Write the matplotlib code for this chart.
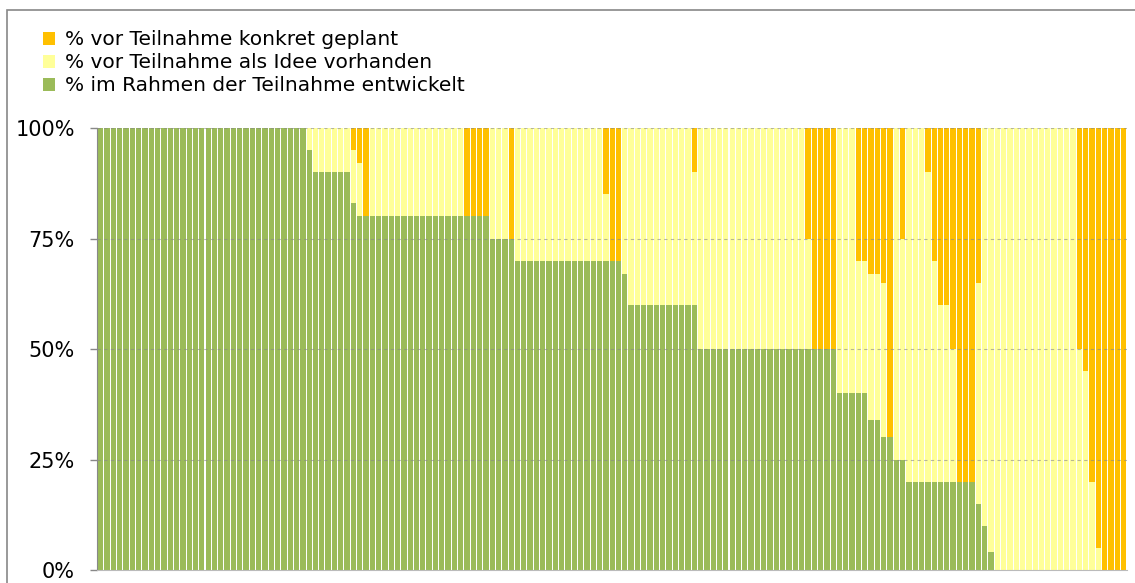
import matplotlib
matplotlib.use("Agg")
import matplotlib.pyplot as plt
import numpy as np
from matplotlib.patches import Rectangle

# share of ideas per participant, bars sorted as in the original
green = [
    100, 100, 100, 100, 100, 100, 100, 100, 100, 100,
    100, 100, 100, 100, 100, 100, 100, 100, 100, 100,
    100, 100, 100, 100, 100, 100, 100, 100, 100, 100,
    100, 100, 100, 95, 90, 90, 90, 90, 90, 90,
    83, 80, 80, 80, 80, 80, 80, 80, 80, 80,
    80, 80, 80, 80, 80, 80, 80, 80, 80, 80,
    80, 80, 75, 75, 75, 75, 70, 70, 70, 70,
    70, 70, 70, 70, 70, 70, 70, 70, 70, 70,
    70, 70, 70, 67, 60, 60, 60, 60, 60, 60,
    60, 60, 60, 60, 60, 50, 50, 50, 50, 50,
    50, 50, 50, 50, 50, 50, 50, 50, 50, 50,
    50, 50, 50, 50, 50, 50, 50, 40, 40, 40,
    40, 40, 34, 34, 30, 30, 25, 25, 20, 20,
    20, 20, 20, 20, 20, 20, 20, 20, 20, 15,
    10, 4, 0, 0, 0, 0, 0, 0, 0, 0,
    0, 0, 0, 0, 0, 0, 0, 0, 0, 0,
    0, 0, 0,
]
idea = [
    0, 0, 0, 0, 0, 0, 0, 0, 0, 0,
    0, 0, 0, 0, 0, 0, 0, 0, 0, 0,
    0, 0, 0, 0, 0, 0, 0, 0, 0, 0,
    0, 0, 0, 5, 10, 10, 10, 10, 10, 10,
    12, 12, 0, 20, 20, 20, 20, 20, 20, 20,
    20, 20, 20, 20, 20, 20, 20, 20, 0, 0,
    0, 0, 25, 25, 25, 0, 30, 30, 30, 30,
    30, 30, 30, 30, 30, 30, 30, 30, 30, 30,
    15, 0, 0, 33, 40, 40, 40, 40, 40, 40,
    40, 40, 40, 40, 30, 50, 50, 50, 50, 50,
    50, 50, 50, 50, 50, 50, 50, 50, 50, 50,
    50, 50, 25, 0, 0, 0, 0, 60, 60, 60,
    30, 30, 33, 33, 35, 0, 75, 50, 80, 80,
    80, 70, 50, 40, 40, 30, 0, 0, 0, 50,
    90, 96, 100, 100, 100, 100, 100, 100, 100, 100,
    100, 100, 100, 100, 100, 50, 45, 20, 5, 0,
    0, 0, 0,
]
planned = [
    0, 0, 0, 0, 0, 0, 0, 0, 0, 0,
    0, 0, 0, 0, 0, 0, 0, 0, 0, 0,
    0, 0, 0, 0, 0, 0, 0, 0, 0, 0,
    0, 0, 0, 0, 0, 0, 0, 0, 0, 0,
    5, 8, 20, 0, 0, 0, 0, 0, 0, 0,
    0, 0, 0, 0, 0, 0, 0, 0, 20, 20,
    20, 20, 0, 0, 0, 25, 0, 0, 0, 0,
    0, 0, 0, 0, 0, 0, 0, 0, 0, 0,
    15, 30, 30, 0, 0, 0, 0, 0, 0, 0,
    0, 0, 0, 0, 10, 0, 0, 0, 0, 0,
    0, 0, 0, 0, 0, 0, 0, 0, 0, 0,
    0, 0, 25, 50, 50, 50, 50, 0, 0, 0,
    30, 30, 33, 33, 35, 70, 0, 25, 0, 0,
    0, 10, 30, 40, 40, 50, 80, 80, 80, 35,
    0, 0, 0, 0, 0, 0, 0, 0, 0, 0,
    0, 0, 0, 0, 0, 50, 55, 80, 95, 100,
    100, 100, 100,
]
labels = [
    "% im Rahmen der Teilnahme entwickelt",
    "% vor Teilnahme als Idee vorhanden",
    "% vor Teilnahme konkret geplant",
]
yticks = [0, 25, 50, 75, 100]

GREEN, IDEA, PLANNED = "#9bbb59", "#ffff99", "#ffc000"

fig = plt.figure(figsize=(11.35, 5.83), dpi=100)
ax = fig.add_axes([0.0855, 0.0223, 0.9075, 0.7581])

x = np.arange(len(green))
g, i, p = np.array(green), np.array(idea), np.array(planned)
w = 0.84
b1 = ax.bar(x, g, w, color=GREEN, linewidth=0, label=labels[0])
b2 = ax.bar(x, i, w, bottom=g, color=IDEA, linewidth=0, label=labels[1])
b3 = ax.bar(x, p, w, bottom=g + i, color=PLANNED, linewidth=0, label=labels[2])

for t in yticks[1:]:
    ax.axhline(t, color="#888888", lw=0.8, ls=(0, (3, 3)), alpha=0.6, zorder=3)

ax.set_xlim(-0.6, len(green) - 0.45)
ax.set_ylim(0, 100)
ax.set_yticks(yticks)
ax.set_yticklabels([f"{t}%" for t in yticks], fontsize=15)
ax.tick_params(axis="y", length=5, width=1, color="#888888", pad=11)
ax.set_xticks([])
for s in ("top", "right"):
    ax.spines[s].set_visible(False)
ax.spines["left"].set_color("#888888")
ax.spines["bottom"].set_color("#bbbbbb")

fig.legend([b3, b2, b1], [labels[2], labels[1], labels[0]],
           loc="upper left", bbox_to_anchor=(0.031, 0.962), frameon=False,
           fontsize=14.5, handlelength=0.6, handleheight=0.6, handletextpad=0.5,
           labelspacing=0.2, borderaxespad=0)

fig.patches.append(Rectangle((7 / 1135, -0.1), 1.2, 1 - 10 / 583 + 0.1,
                             transform=fig.transFigure, fill=False,
                             edgecolor="#888888", lw=1.2))

fig.savefig("out.png", dpi=100)
